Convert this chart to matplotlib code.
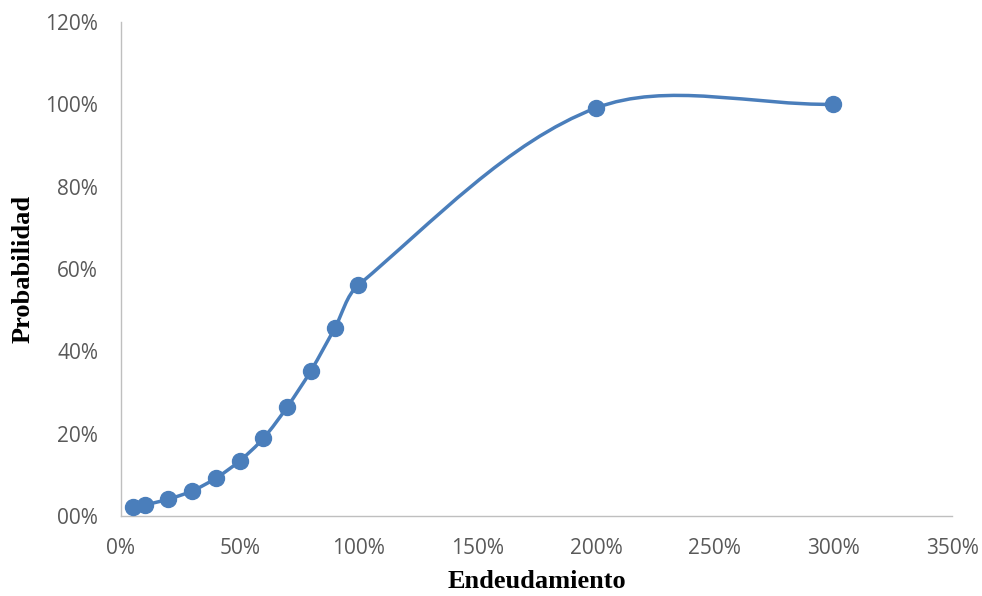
import numpy as np
import matplotlib
matplotlib.use("Agg")
import matplotlib.pyplot as plt
from matplotlib.path import Path
from matplotlib.patches import PathPatch

# Datos (en %)
endeudamiento = [5, 10, 20, 30, 40, 50, 60, 70, 80, 90, 100, 200, 300]
probabilidad = [2.2, 2.7, 4.1, 6.1, 9.2, 13.4, 18.9, 26.5, 35.3, 45.6, 56.1, 99.1, 100.0]

x_ticks = [0, 50, 100, 150, 200, 250, 300, 350]
y_ticks = [0, 20, 40, 60, 80, 100, 120]

azul = '#4a7ebb'
gris = '#595959'

fig = plt.figure(figsize=(9.82, 5.96), dpi=100)
ax = fig.add_axes([0.1232, 0.1342, 0.8463, 0.8289])
ax.set_xlim(0, 350)
ax.set_ylim(0, 120)

# Linea suavizada tipo Excel: Bezier con tangentes escaladas por la longitud
# de cada tramo, calculada en pixeles
pts = ax.transData.transform(np.column_stack([endeudamiento, probabilidad]))
n = len(pts)
verts = [pts[0]]
codes = [Path.MOVETO]
for i in range(n - 1):
    p0 = pts[max(i - 1, 0)]
    p1 = pts[i]
    p2 = pts[i + 1]
    p3 = pts[min(i + 2, n - 1)]
    d01 = np.hypot(*(p1 - p0))
    d12 = np.hypot(*(p2 - p1))
    d23 = np.hypot(*(p3 - p2))
    c1 = p1 + (p2 - p0) * d12 / (3 * (d01 + d12))
    c2 = p2 - (p3 - p1) * d12 / (3 * (d12 + d23))
    verts += [c1, c2, p2]
    codes += [Path.CURVE4] * 3
verts = ax.transData.inverted().transform(np.array(verts))
ax.add_patch(PathPatch(Path(verts, codes), fill=False, edgecolor=azul, lw=2.5,
                       capstyle='round', joinstyle='round', zorder=2))

ax.plot(endeudamiento, probabilidad, 'o', color=azul, markersize=11.5, zorder=3)

ax.set_xticks(x_ticks)
ax.set_yticks(y_ticks)
ax.xaxis.set_major_formatter(plt.FuncFormatter(lambda v, p: '%d%%' % v))
ax.yaxis.set_major_formatter(plt.FuncFormatter(lambda v, p: '%02d%%' % v))

for s in ['top', 'right']:
    ax.spines[s].set_visible(False)
for s in ['left', 'bottom']:
    ax.spines[s].set_color('#bfbfbf')
    ax.spines[s].set_linewidth(1)

ax.tick_params(length=0, labelsize=15, labelcolor=gris)
ax.tick_params(axis='x', pad=16)
ax.tick_params(axis='y', pad=16.5)
for lab in ax.get_xticklabels() + ax.get_yticklabels():
    lab.set_fontfamily('Open Sans')

ax.set_xlabel('Endeudamiento', fontsize=19, fontweight='bold', family='Liberation Serif', labelpad=8)
ax.set_ylabel('Probabilidad', fontsize=19, fontweight='bold', family='Liberation Serif', labelpad=7.5)

fig.savefig('out.png', dpi=100)
